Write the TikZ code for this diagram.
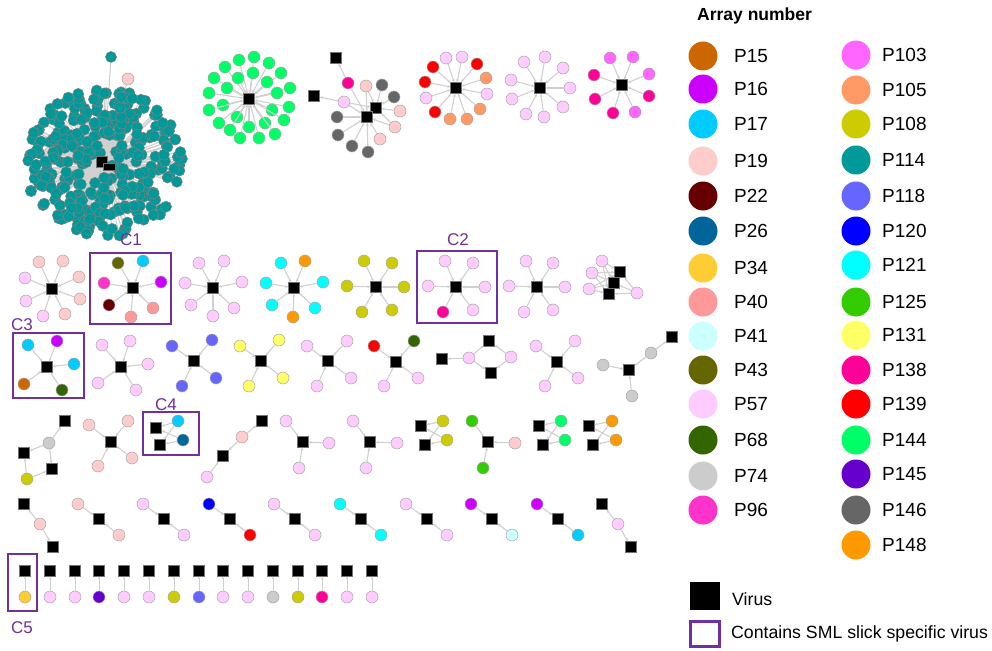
\documentclass[tikz,border=0pt]{standalone}
\usepackage{fontspec}
\setmainfont{Liberation Sans}
\usetikzlibrary{arrows.meta}
\definecolor{P15}{HTML}{CC6600}
\definecolor{P16}{HTML}{CC00FF}
\definecolor{P17}{HTML}{00CCFF}
\definecolor{P19}{HTML}{FFCCCC}
\definecolor{P22}{HTML}{660000}
\definecolor{P26}{HTML}{006699}
\definecolor{P34}{HTML}{FFCC33}
\definecolor{P40}{HTML}{FF9999}
\definecolor{P41}{HTML}{CCFFFF}
\definecolor{P43}{HTML}{666600}
\definecolor{P57}{HTML}{FFCCFF}
\definecolor{P68}{HTML}{336600}
\definecolor{P74}{HTML}{CCCCCC}
\definecolor{P96}{HTML}{FF33CC}
\definecolor{P103}{HTML}{FF66FF}
\definecolor{P105}{HTML}{FF9966}
\definecolor{P108}{HTML}{CCCC00}
\definecolor{P114}{HTML}{009999}
\definecolor{P118}{HTML}{6666FF}
\definecolor{P120}{HTML}{0000FF}
\definecolor{P121}{HTML}{00FFFF}
\definecolor{P125}{HTML}{33CC00}
\definecolor{P131}{HTML}{FFFF66}
\definecolor{P138}{HTML}{FF0099}
\definecolor{P139}{HTML}{FF0000}
\definecolor{P144}{HTML}{00FF66}
\definecolor{P145}{HTML}{6600CC}
\definecolor{P146}{HTML}{666666}
\definecolor{P148}{HTML}{FF9900}
\definecolor{SML}{HTML}{7030A0}
\definecolor{edgec}{HTML}{D0D0D0}
\pgfdeclarelayer{bg}\pgfsetlayers{bg,main}
\tikzset{
 virus/.style={rectangle,fill=black,draw=black!55,line width=0.4pt,minimum size=11pt,inner sep=0pt},
 arr/.style={circle,draw=black!35,line width=0.5pt,minimum size=12pt,inner sep=0pt},
 tl/.style={circle,draw=black!50,fill=P114,line width=0.5pt,minimum size=11pt,inner sep=0pt},
 edge/.style={draw=edgec,line width=1.1pt,-{Stealth[length=3pt,width=3pt]}},
 tedge/.style={draw=edgec,line width=1.1pt},
 thinedge/.style={draw=edgec,line width=0.7pt,-{Stealth[length=2.5pt,width=2.5pt]}},
 smlbox/.style={draw=SML,line width=2.6pt},
 clab/.style={text=SML,font=\fontsize{17}{17}\selectfont},
 legc/.style={circle,minimum size=29pt,inner sep=0pt},
 legt/.style={anchor=west,font=\fontsize{19}{19}\selectfont,inner sep=0pt},
 legs/.style={anchor=west,font=\fontsize{17.7}{17.7}\selectfont,inner sep=0pt}
}
\newcommand\hubnet[4]{%
 \node[virus] (#1) at (#2,#3) {};
 \foreach \cl/\px/\py [count=\i] in {#4}{%
  \node[arr,fill=\cl] (#1-\i) at (\px,\py) {};
  \draw[edge] (#1-\i) -- (#1);}}
\begin{document}
\begin{tikzpicture}[x=1pt,y=-1pt]
\useasboundingbox (0,0) rectangle (992,650);

% ---------- big teal cluster ----------
\coordinate (T0) at (104,164);
\node[arr,fill=P19] (tp1) at (128,79) {};
\node[arr,fill=P19] (tp2) at (50,153) {};
\node[arr,fill=P19] (tp3) at (66,164) {};
\node[arr,fill=P19] (tp4) at (176,166) {};
\node[tl] (tout) at (111,57) {};
\foreach \n in {tp1,tp2,tp3,tp4,tout}{\draw[tedge] (T0) -- (\n);}
\pgfmathsetseed{21}
\foreach \i in {1,...,330}{%
 \pgfmathsetmacro\ang{rnd*360}%
 \pgfmathsetmacro\rr{0.06+0.94*sqrt(rnd)}%
 \coordinate (tc\i) at ({104+79*\rr*cos(\ang)},{163+74*\rr*sin(\ang)});
 \draw[tedge] (T0) -- (tc\i);
}
\foreach \i in {1,...,330}{\node[tl] (t\i) at (tc\i) {};}
\node[virus] (T1) at (102,162) {};
\node[virus,minimum width=12pt,minimum height=7pt] (T2) at (109,167) {};

% ---------- top row ----------
\hubnet{G}{249}{99}{P144/254/57,P144/239/60,P144/269/63,P144/225/67,P144/281/73,P144/253/73,P144/238/78,P144/214/78,P144/267/82,P144/227/88,P144/290/88,P144/209/93,P144/277/93,P144/223/105,P144/289/107,P144/209/110,P144/272/110,P144/237/117,P144/284/120,P144/219/123,P144/265/123,P144/249/127,P144/230/130,P144/275/134,P144/240/138,P144/259/138}

\node[virus] (M1) at (336,58) {};
\node[virus] (M2) at (314,96) {};
\node[arr,fill=P138] (Ma) at (348,83) {};
\node[arr,fill=P57] (Mb) at (344,102) {};
\node[arr,fill=P19] (Mc) at (366,86) {};
\node[arr,fill=P146] (Md) at (382,85) {};
\node[arr,fill=P146] (Me) at (394,97) {};
\node[arr,fill=P19] (Mf) at (400,111) {};
\node[arr,fill=P19] (Mg) at (395,127) {};
\node[arr,fill=P19] (Mh) at (380,139) {};
\node[arr,fill=P146] (Mi) at (368,152) {};
\node[arr,fill=P146] (Mj) at (352,146) {};
\node[arr,fill=P146] (Mk) at (338,135) {};
\node[arr,fill=P146] (Ml) at (337,117) {};
\node[virus] (M3) at (376,108) {};
\node[virus] (M4) at (367,117) {};
\begin{pgfonlayer}{bg}
\draw[edge] (Ma) -- (M1);
\draw[edge] (Mb) -- (M2);
\foreach \n in {Mb,Mc,Md,Me,Mf,Mg}{\draw[edge] (\n) -- (M3);}
\foreach \n in {Ma,Mb,Mc,Mg,Mh,Mi,Mj,Mk,Ml}{\draw[edge] (\n) -- (M4);}
\end{pgfonlayer}

\hubnet{R}{456}{88}{P57/446/58,P57/462/57,P139/477/64,P139/433/67,P105/486/78,P139/425/82,P57/487/94,P57/426/98,P105/480/109,P139/435/112,P105/450/119,P105/467/119}
\hubnet{Q}{540}{88}{P57/524/62,P57/545/57,P57/563/68,P57/511/80,P57/570/88,P57/512/99,P57/563/107,P57/526/114,P57/544/117}
\hubnet{H}{622}{85}{P103/610/58,P103/633/57,P138/594/75,P103/649/74,P138/595/99,P138/649/96,P138/613/113,P103/635/112}

% ---------- row 2 ----------
\hubnet{S1}{52}{289}{P19/39/262,P19/63/261,P57/25/278,P19/79/277,P57/26/301,P19/80/299,P57/43/316,P19/65/314}
\hubnet{S2}{133}{288}{P43/118/263,P17/143/261,P96/104/283,P16/161/282,P22/109/305,P40/153/308,P40/131/317}
\hubnet{S3}{213}{288}{P57/199/263,P57/224/261,P57/185/283,P57/242/282,P57/191/305,P57/234/308,P57/213/316}
\hubnet{S4}{294}{288}{P121/281/263,P148/305/261,P121/266/283,P121/323/282,P121/272/305,P121/315/308,P148/293/317}
\hubnet{S5}{376}{287}{P108/364/261,P108/392/263,P108/347/286,P108/404/287,P108/362/312,P108/392/310}
\hubnet{S6}{456}{287}{P57/445/261,P57/473/263,P57/428/286,P57/485/287,P138/443/312,P57/473/310}
\hubnet{S7}{537}{287}{P57/526/261,P57/553/263,P57/509/286,P57/565/287,P57/524/312,P57/553/310}

\node[arr,fill=P57] (Ka) at (602,261) {};
\node[arr,fill=P57] (Kb) at (592,273) {};
\node[arr,fill=P57] (Kc) at (589,289) {};
\node[arr,fill=P57] (Kd) at (637,293) {};
\node[virus] (K1) at (620,272) {};
\node[virus] (K2) at (614,283) {};
\node[virus] (K3) at (609,294) {};
\begin{pgfonlayer}{bg}
\foreach \a in {Ka,Kb,Kc,Kd}{\foreach \b in {K1,K2,K3}{\draw[edge] (\a) -- (\b);}}
\end{pgfonlayer}

% ---------- row 3 ----------
\hubnet{S8}{47}{367}{P17/28/345,P16/57/341,P17/74/364,P15/24/384,P68/62/390}
\hubnet{S9}{121}{367}{P57/102/345,P57/130/341,P57/148/364,P57/98/383,P57/136/390}
\hubnet{S10}{194}{361}{P118/172/346,P118/212/340,P118/216/378,P118/182/386}
\hubnet{S11}{261}{361}{P131/240/346,P131/279/340,P131/283/378,P131/249/386}
\hubnet{S12}{328}{361}{P57/307/346,P57/347/341,P57/351/378,P57/317/386}
\hubnet{S13}{396}{362}{P139/374/346,P68/414/341,P57/418/378,P57/384/386}
\node[virus] (W1) at (442,359) {};
\node[arr,fill=P57] (Wa) at (469,358) {};
\node[virus] (W2) at (489,341) {};
\node[arr,fill=P57] (Wb) at (511,357) {};
\node[virus] (W3) at (491,373) {};
\draw[edge] (Wa) -- (W1); \draw[edge] (Wa) -- (W2); \draw[edge] (Wa) -- (W3);
\draw[edge] (Wb) -- (W2); \draw[edge] (Wb) -- (W3);
\hubnet{S14}{557}{362}{P57/536/346,P57/575/341,P57/578/378,P57/545/386}
\node[virus] (X1) at (629,370) {};
\node[arr,fill=P74] (Xa) at (603,365) {};
\node[arr,fill=P74] (Xb) at (651,353) {};
\node[arr,fill=P74] (Xc) at (632,396) {};
\node[virus] (X2) at (672,337) {};
\draw[edge] (Xa) -- (X1); \draw[edge] (Xb) -- (X1); \draw[edge] (Xc) -- (X1); \draw[edge] (Xb) -- (X2);

% ---------- row 4 ----------
\node[virus] (Y1) at (65,421) {};
\node[arr,fill=P74] (Ya) at (49,443) {};
\node[virus] (Y2) at (24,453) {};
\node[virus] (Y3) at (52,469) {};
\node[arr,fill=P108] (Yb) at (27,479) {};
\draw[edge] (Ya) -- (Y1); \draw[edge] (Ya) -- (Y2); \draw[edge] (Ya) -- (Y3);
\draw[edge] (Yb) -- (Y2); \draw[edge] (Yb) -- (Y3);
\hubnet{S15}{111}{442}{P19/89/425,P19/128/421,P19/132/458,P19/98/466}
\node[virus] (Z1) at (156,428) {};
\node[virus] (Z2) at (160,445) {};
\node[arr,fill=P17] (Za) at (178,421) {};
\node[arr,fill=P26] (Zb) at (183,440) {};
\node[virus] (V1) at (262,421) {};
\node[arr,fill=P19] (Va) at (242,437) {};
\node[virus] (V2) at (223,456) {};
\node[arr,fill=P57] (Vb) at (207,477) {};
\foreach \a in {Za,Zb}{\foreach \b in {Z1,Z2}{\draw[edge] (\a) -- (\b);}}
\draw[edge] (Va) -- (V1); \draw[edge] (Va) -- (V2); \draw[edge] (Vb) -- (V2);
\hubnet{S16}{303}{442}{P57/286/421,P57/329/443,P57/299/468}
\hubnet{S17}{370}{442}{P57/353/421,P57/397/443,P57/366/468}
\hubnet{S18}{488}{442}{P125/472/421,P19/515/443,P125/483/468}
\foreach \nm/\cl/\xa/\xb in {U/P108/421/443,E/P144/539/561,F/P148/589/612}{%
 \node[virus] (\nm1) at (\xa,426) {};
 \node[virus] (\nm2) at ({\xa+4},445) {};
 \node[arr,fill=\cl] (\nm a) at (\xb,421) {};
 \node[arr,fill=\cl] (\nm b) at ({\xb+4},440) {};
 \draw[edge] (\nm a) -- (\nm1); \draw[edge] (\nm a) -- (\nm2);
 \draw[edge] (\nm b) -- (\nm1); \draw[edge] (\nm b) -- (\nm2);}

% ---------- row 5 ----------
\node[virus] (A1) at (24,504) {};
\node[arr,fill=P19] (Aa) at (40,524) {};
\node[virus] (A2) at (53,547) {};
\node[virus] (B1) at (602,504) {};
\node[arr,fill=P57] (Ba) at (618,524) {};
\node[virus] (B2) at (631,547) {};
\draw[edge] (Aa) -- (A1); \draw[edge] (Aa) -- (A2);
\draw[edge] (Ba) -- (B1); \draw[edge] (Ba) -- (B2);
\foreach \cl/\cr/\xx [count=\i] in {P19/P19/78,P57/P57/143,P120/P139/209,P57/P57/274,P121/P121/340,P57/P57/406,P16/P41/471,P16/P17/537}{%
 \node[arr,fill=\cl] (D\i a) at (\xx,504) {};
 \node[virus] (D\i) at ({\xx+21},519) {};
 \node[arr,fill=\cr] (D\i b) at ({\xx+41},535) {};
 \draw[edge] (D\i a) -- (D\i); \draw[edge] (D\i b) -- (D\i);}

% ---------- row 6 ----------
\foreach \xx/\cl [count=\i] in {25/P34,50/P57,75/P57,99/P145,124/P57,149/P57,174/P108,199/P118,223/P57,248/P57,273/P74,298/P108,322/P138,347/P57,372/P57}{%
 \node[virus] (r\i) at (\xx,571) {};
 \node[arr,fill=\cl] (q\i) at (\xx,597) {};
 \draw[thinedge] (q\i) -- (r\i);}

% ---------- SML boxes ----------
\draw[smlbox] (90,253) rectangle (171,324);
\node[clab] (lC1) at (131,240) {C1};
\draw[smlbox] (417,251) rectangle (497,323);
\node[clab] (lC2) at (458,240) {C2};
\draw[smlbox] (13,333) rectangle (84,398);
\node[clab] (lC3) at (22,325) {C3};
\draw[smlbox] (143,412) rectangle (199,455);
\node[clab] (lC4) at (166,405) {C4};
\draw[smlbox] (8,554) rectangle (37,611);
\node[clab] (lC5) at (22,628) {C5};

% ---------- legend ----------
\node[anchor=west,inner sep=0pt,font=\bfseries\fontsize{17.5}{17.5}\selectfont] (title) at (697,16) {Array number};
\foreach \nm/\yy in {P15/56,P16/89,P17/124,P19/161,P22/196,P26/231,P34/268,P40/302,P41/336,P43/370,P57/404,P68/440,P74/476,P96/510}{%
 \node[legc,fill=\nm] (lc\nm) at (703,\yy) {};
 \node[legt] (lt\nm) at (734,\yy) {\nm};}
\foreach \nm/\yy in {P103/55,P105/90,P108/124,P114/160,P118/196,P120/231,P121/265,P125/302,P131/335,P138/370,P139/404,P144/440,P145/474,P146/510,P148/545}{%
 \node[legc,fill=\nm] (lc\nm) at (856,\yy) {};
 \node[legt] (lt\nm) at (882,\yy) {\nm};}
\node[rectangle,fill=black,minimum width=30pt,minimum height=28pt,inner sep=0pt] (lvir) at (705,596) {};
\node[legs] (lvirt) at (732,599) {Virus};
\node[rectangle,draw=SML,line width=3pt,minimum width=29pt,minimum height=25pt,inner sep=0pt] (lsml) at (705,634) {};
\node[legs] (lsmlt) at (731,634) {Contains SML slick specific virus};
\end{tikzpicture}
\end{document}
